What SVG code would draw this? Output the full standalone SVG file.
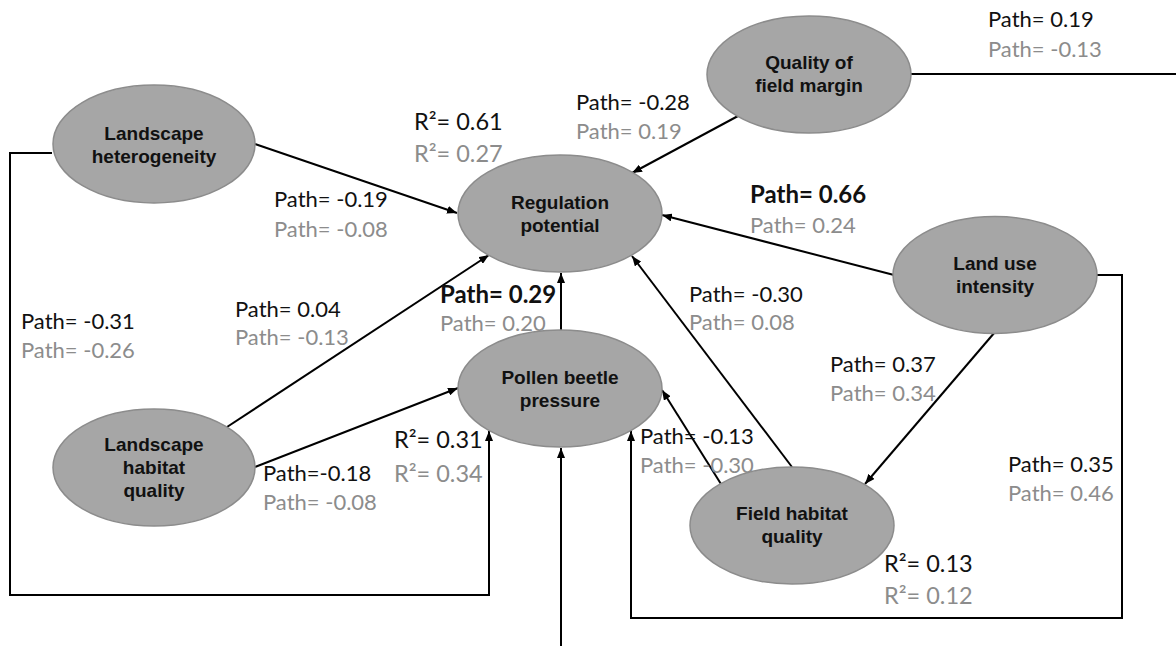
<svg xmlns="http://www.w3.org/2000/svg" width="1176" height="646" viewBox="0 0 1176 646">
<style>
.node ellipse{fill:#a6a6a6;stroke:#8c8c8c;stroke-width:1.5}
.node text{font-family:"Liberation Sans",Arial,sans-serif;font-weight:bold;font-size:19px;fill:#111;text-anchor:middle}
.lbl{font-family:Lato,"Liberation Sans",sans-serif;font-size:22px;fill:#111}
.g{fill:#8c8c8c}
.b{font-weight:bold;font-size:24px}
.r{font-size:23.5px}
.conn line,.conn polyline{stroke:#000;stroke-width:2;fill:none}
</style>
<defs>
<marker id="ah" markerUnits="userSpaceOnUse" markerWidth="10" markerHeight="8" refX="10" refY="4" orient="auto">
<path d="M0,0 L10,4 L0,8 z" fill="#000"/>
</marker>
</defs>
<rect width="1176" height="646" fill="#fff"/>
<g id="connectors" class="conn">
<line x1="255" y1="144" x2="457" y2="213" marker-end="url(#ah)"/>
<line x1="227" y1="427" x2="489" y2="255" marker-end="url(#ah)"/>
<line x1="255" y1="467" x2="458" y2="388" marker-end="url(#ah)"/>
<line x1="561" y1="330" x2="561" y2="273" marker-end="url(#ah)"/>
<line x1="738" y1="116" x2="632" y2="173" marker-end="url(#ah)"/>
<line x1="894" y1="275" x2="662" y2="215" marker-end="url(#ah)"/>
<line x1="792" y1="467" x2="632" y2="256" marker-end="url(#ah)"/>
<line x1="721" y1="484" x2="662" y2="390" marker-end="url(#ah)"/>
<line x1="995" y1="332" x2="865" y2="484" marker-end="url(#ah)"/>
<polyline points="52,153 10,153 10,595 489,595 489,431" marker-end="url(#ah)"/>
<polyline points="911,74 1190,74 1190,660 561,660 561,448" marker-end="url(#ah)"/>
<polyline points="1097,275 1122,275 1122,618 631,618 631,431" marker-end="url(#ah)"/>
</g>
<g id="n-qfm" class="node"><ellipse cx="809" cy="74.5" rx="102" ry="58.5"/><text x="809" y="69">Quality of</text><text x="809" y="92">field margin</text></g>
<g id="n-lh" class="node"><ellipse cx="154" cy="144" rx="101" ry="59"/><text x="154" y="140">Landscape</text><text x="154" y="163">heterogeneity</text></g>
<g id="n-rp" class="node"><ellipse cx="560" cy="213.5" rx="102" ry="58.5"/><text x="560" y="209">Regulation</text><text x="560" y="232">potential</text></g>
<g id="n-lui" class="node"><ellipse cx="995" cy="275" rx="102" ry="58.5"/><text x="995" y="270">Land use</text><text x="995" y="293">intensity</text></g>
<g id="n-pbp" class="node"><ellipse cx="560" cy="388.5" rx="102" ry="58.5"/><text x="560" y="384">Pollen beetle</text><text x="560" y="407">pressure</text></g>
<g id="n-lhq" class="node"><ellipse cx="154" cy="467.5" rx="101" ry="58.5"/><text x="154" y="451">Landscape</text><text x="154" y="474">habitat</text><text x="154" y="497">quality</text></g>
<g id="n-fhq" class="node"><ellipse cx="792" cy="525.5" rx="102" ry="58.5"/><text x="792" y="520">Field habitat</text><text x="792" y="543">quality</text></g>
<g id="labels" class="lbl">
<text x="988" y="27">Path= 0.19</text><text class="g" x="988" y="57">Path= -0.13</text>
<text x="576" y="110">Path= -0.28</text><text class="g" x="576" y="139">Path= 0.19</text>
<text class="r" x="414" y="130">R²= 0.61</text><text class="g r" x="414" y="162">R²= 0.27</text>
<text x="274" y="207">Path= -0.19</text><text class="g" x="274" y="237">Path= -0.08</text>
<text class="b" x="750" y="203">Path= 0.66</text><text class="g" x="750" y="233">Path= 0.24</text>
<text x="235" y="317">Path= 0.04</text><text class="g" x="235" y="345">Path= -0.13</text>
<text class="b" x="440" y="303">Path= 0.29</text><text class="g" x="440" y="331">Path= 0.20</text>
<text x="689" y="302">Path= -0.30</text><text class="g" x="689" y="330">Path= 0.08</text>
<text x="21" y="329">Path= -0.31</text><text class="g" x="21" y="358">Path= -0.26</text>
<text x="830" y="372">Path= 0.37</text><text class="g" x="830" y="401">Path= 0.34</text>
<text class="r" x="394" y="448">R²= 0.31</text><text class="g r" x="394" y="482">R²= 0.34</text>
<text x="263" y="481">Path=-0.18</text><text class="g" x="263" y="510">Path= -0.08</text>
<text x="640" y="444">Path= -0.13</text><text class="g" x="640" y="473">Path= -0.30</text>
<text x="1008" y="472">Path= 0.35</text><text class="g" x="1008" y="501">Path= 0.46</text>
<text class="r" x="884" y="572">R²= 0.13</text><text class="g r" x="884" y="604">R²= 0.12</text>
</g>
</svg>
